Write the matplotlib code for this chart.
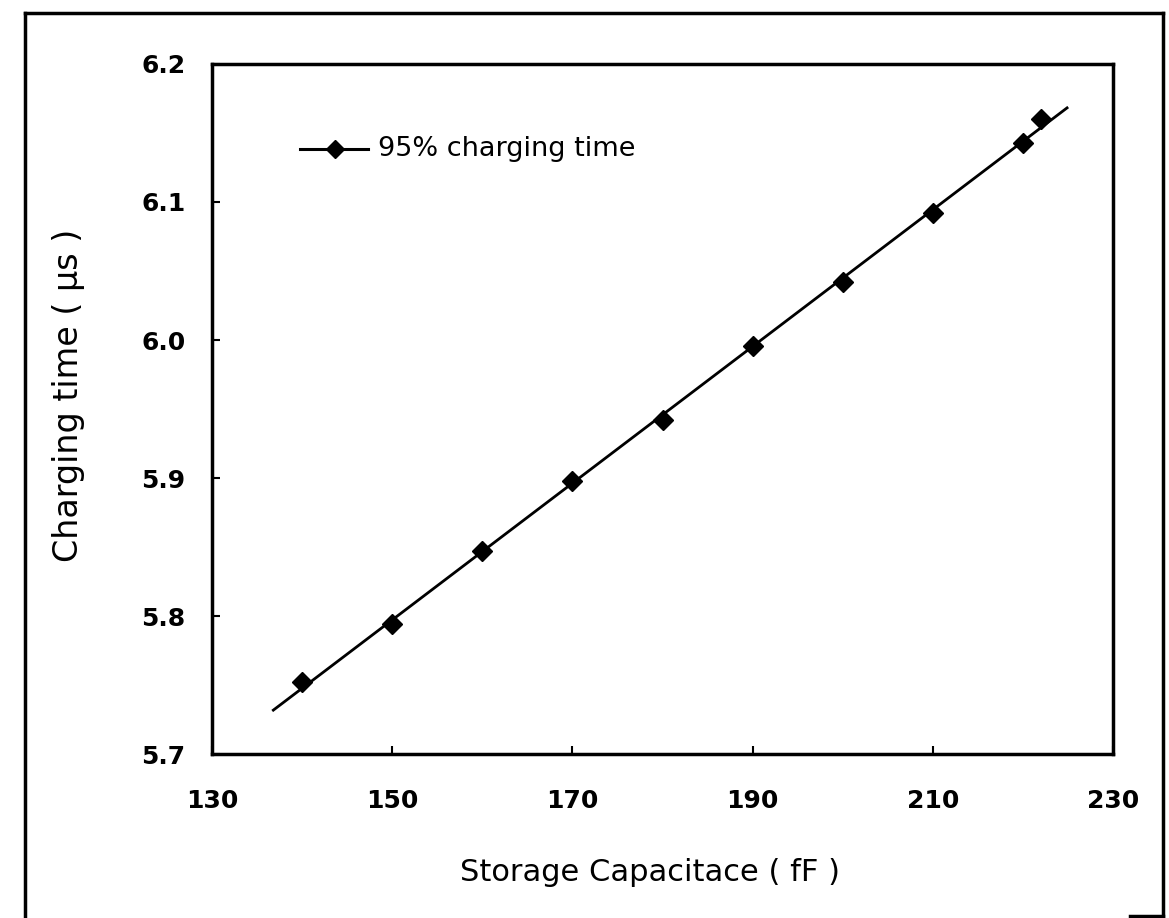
import numpy as np
import matplotlib.pyplot as plt
from matplotlib.lines import Line2D

# data --------------------------------------------------------------
capacitance = [140, 150, 160, 170, 180, 190, 200, 210, 220, 222]   # fF
charge_time = [5.752, 5.794, 5.847, 5.898, 5.942, 5.996, 6.042, 6.092, 6.143, 6.160]  # us
fit_range = [136.8, 224.9]   # extent of the trend line

x_ticks = [130, 150, 170, 190, 210, 230]
y_ticks = [5.7, 5.8, 5.9, 6.0, 6.1, 6.2]

plt.rcParams['font.family'] = ['DejaVu Sans']

fig = plt.figure(figsize=(11.69, 9.18), dpi=100)
ax = fig.add_axes([0.1814, 0.1786, 0.7707, 0.7517])

# linear trend line through the points
coef = np.polyfit(capacitance, charge_time, 1)
xf = np.array(fit_range)
ax.plot(xf, np.polyval(coef, xf), color='black', lw=2)
ax.plot(capacitance, charge_time, linestyle='none', marker='D', ms=10,
        color='black')

# legend drawn by hand (line + marker)
ax.plot([0.098, 0.173], [0.877, 0.877], transform=ax.transAxes,
        color='black', lw=2.2)
ax.plot([0.137], [0.877], transform=ax.transAxes, marker='D', ms=9,
        color='black')
ax.text(0.184, 0.877, '95% charging time', transform=ax.transAxes,
        va='center', ha='left', fontsize=19.5)

ax.set_xlim(130, 230)
ax.set_ylim(5.7, 6.2)
ax.set_xticks(x_ticks)
ax.set_yticks(y_ticks)
ax.set_xticklabels([str(t) for t in x_ticks], fontsize=18, fontweight='bold')
ax.set_yticklabels(['5.7', '5.8', '5.9', '6.0', '6.1', '6.2'],
                   fontsize=18, fontweight='bold')
ax.tick_params(direction='in', length=6, width=1.5)
ax.tick_params(axis='x', pad=25)
ax.tick_params(axis='y', pad=19)
for s in ax.spines.values():
    s.set_linewidth(2.5)

ax.set_xlabel('Storage Capacitace ( fF )', fontsize=22)
ax.set_ylabel('Charging time ( μs )', fontsize=24)
ax.xaxis.set_label_coords(0.486, -0.151)
ax.yaxis.set_label_coords(-0.141, 0.52)

# outer frame of the figure
frame = dict(color='black', lw=2.5, transform=fig.transFigure)
fig.add_artist(Line2D([0.0214, 0.0214], [0.0, 0.9858], **frame))
fig.add_artist(Line2D([0.0214, 0.9949], [0.9858, 0.9858], **frame))
fig.add_artist(Line2D([0.9949, 0.9949], [0.0, 0.9858], **frame))
fig.add_artist(Line2D([0.967, 0.9949], [0.002, 0.002], **frame))

fig.savefig('out.png', dpi=100)
